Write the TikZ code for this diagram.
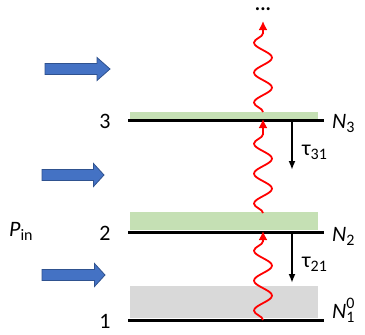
\documentclass[tikz,border=0pt]{standalone}
\usepackage{fontspec}
\setmainfont{Carlito}
\usetikzlibrary{arrows.meta,decorations.pathmorphing}
\definecolor{bandgreen}{RGB}{197,224,180}
\definecolor{bandgray}{RGB}{217,217,217}
\definecolor{bluefill}{RGB}{68,114,196}
\definecolor{blueedge}{RGB}{47,82,143}
\definecolor{wavered}{RGB}{255,0,0}
\newcommand\lsub[1]{\raisebox{-4.5pt}{\fontsize{16}{16}\selectfont #1}}
\newcommand\lsup[1]{\raisebox{10pt}{\fontsize{16}{16}\selectfont #1}}
\begin{document}
\begin{tikzpicture}[x=1pt,y=-1pt,
  level/.style={line width=3pt},
  lbl/.style={font=\fontsize{22}{26}\selectfont, inner sep=0pt},
  wave/.style={wavered, line width=1.8pt, decorate,
    decoration={snake, amplitude=9pt, segment length=30pt, post length=6pt, pre length=0pt},
    -{Latex[length=9pt,width=9pt]}},
  decay/.style={line width=2pt, -{Latex[length=9pt,width=7pt]}},
  pump/.style={fill=bluefill, draw=blueedge, line width=0.8pt}
]
\useasboundingbox (0,0) rectangle (365,335);
% bands
\fill[bandgreen] (130,112) rectangle (318,119);
\fill[bandgreen] (130,212) rectangle (318,230);
\fill[bandgray] (130,286) rectangle (318,318);
% levels
\coordinate (l3a) at (128,120); \coordinate (l3b) at (324,120);
\coordinate (l2a) at (128,232); \coordinate (l2b) at (324,232);
\coordinate (l1a) at (128,320); \coordinate (l1b) at (324,320);
\draw[level] (l3a) -- (l3b);
\draw[level] (l2a) -- (l2b);
\draw[level] (l1a) -- (l1b);
% level numbers
\node[lbl, anchor=base] (n3) at (105,128) {3};
\node[lbl, anchor=base] (n2) at (105,240) {2};
\node[lbl, anchor=base] (n1) at (105,328) {1};
\node[lbl, anchor=base west] (pin) at (9,236) {\textit{P}\lsub{in}};
% population labels
\node[lbl, anchor=base west] (N3) at (332,128) {\textit{N}\lsub{3}};
\node[lbl, anchor=base west] (N2) at (332,241) {\textit{N}\lsub{2}};
\node[lbl, anchor=base west] (N1) at (332,318) {\textit{N}\rlap{\lsup{0}}\lsub{1}};
% pump arrows
\draw[pump] (45,63.5) -- (97,63.5) -- (97,57.5) -- (110,69) -- (97,80.5) -- (97,74.5) -- (45,74.5) -- cycle;
\draw[pump] (42,169.5) -- (93.5,169.5) -- (93.5,163.5) -- (104,175) -- (93.5,186.5) -- (93.5,180.5) -- (42,180.5) -- cycle;
\draw[pump] (42,269.5) -- (94.5,269.5) -- (94.5,263.5) -- (105,275) -- (94.5,286.5) -- (94.5,280.5) -- (42,280.5) -- cycle;
% waves
\coordinate (w1s) at (263,320); \coordinate (w1e) at (263,231);
\coordinate (w2s) at (263,213); \coordinate (w2e) at (263,119);
\coordinate (w3s) at (263,112); \coordinate (w3e) at (263,21);
\draw[wave] (w1s) -- (w1e);
\draw[wave] (w2s) -- (w2e);
\draw[wave] (w3s) -- (w3e);
\node[font=\fontsize{20}{22}\selectfont\bfseries, inner sep=0pt, anchor=base, text height=4pt, text depth=0pt] (dots) at (263,10) {...};
% decay arrows
\coordinate (d3s) at (292,121); \coordinate (d3e) at (292,170);
\coordinate (d2s) at (292,233); \coordinate (d2e) at (292,283);
\draw[decay] (d3s) -- (d3e);
\draw[decay] (d2s) -- (d2e);
\node[lbl, anchor=base west] (t31) at (302,155) {τ\lsub{31}};
\node[lbl, anchor=base west] (t21) at (302,267) {τ\lsub{21}};
\end{tikzpicture}
\end{document}
